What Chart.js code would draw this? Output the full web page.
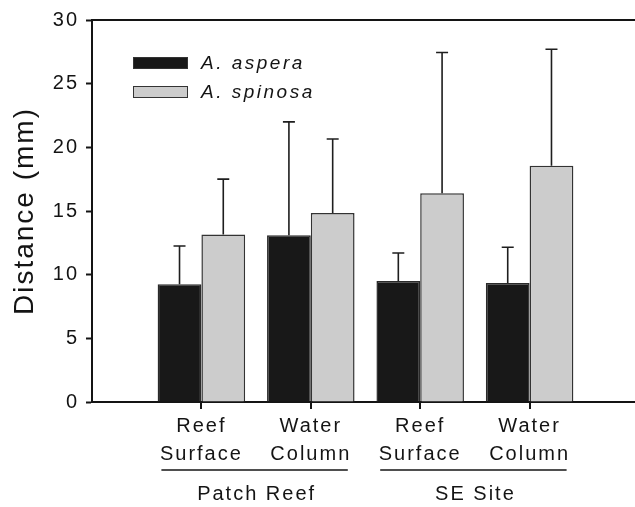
<!DOCTYPE html>
<html>
<head>
<meta charset="utf-8">
<script src="https://cdn.jsdelivr.net/npm/chart.js@4/dist/chart.umd.min.js"></script>
<style>
html, body { margin: 0; padding: 0; overflow: hidden; background: #fff; }
canvas { display: block; }
</style>
</head>
<body>
<canvas id="distChart" width="642" height="507"></canvas>
<script>
// mean distance (mm) with upper SD, per habitat and site
const sites = ['Patch Reef', 'SE Site'];
const habitats = [['Reef', 'Surface'], ['Water', 'Column'], ['Reef', 'Surface'], ['Water', 'Column']];
const aspera = [9.25, 13.1, 9.5, 9.35];
const asperaSD = [3.0, 8.9, 2.2, 2.8];
const spinosa = [13.15, 14.85, 16.4, 18.55];
const spinosaSD = [4.35, 5.8, 11.05, 9.15];
const yTicks = [0, 5, 10, 15, 20, 25, 30];

const FONT = "'Liberation Sans', Arial, sans-serif";
const INK = '#141414';

// empty slot at each end so the categories sit at 1..4 on the axis
const pad = arr => [null, ...arr, null];

const spacing = {
    id: 'spacing',
    beforeLayout(chart) { chart.ctx.letterSpacing = '2px'; },
    beforeDraw(chart) { chart.ctx.letterSpacing = '2px'; }
};

const errorBars = {
    id: 'errorBars',
    afterDatasetsDraw(chart) {
        const ctx = chart.ctx;
        const y = chart.scales.y;
        ctx.save();
        ctx.strokeStyle = '#1e1e1e';
        ctx.lineWidth = 1.6;
        chart.data.datasets.forEach((ds, di) => {
            const meta = chart.getDatasetMeta(di);
            meta.data.forEach((bar, i) => {
                const v = ds.data[i];
                if (v == null) return;
                const top = y.getPixelForValue(v + ds.sd[i]);
                ctx.beginPath();
                ctx.moveTo(bar.x, bar.y);
                ctx.lineTo(bar.x, top);
                ctx.moveTo(bar.x - 6, top);
                ctx.lineTo(bar.x + 6, top);
                ctx.stroke();
            });
        });
        ctx.restore();
    }
};

// top frame line, category ticks, legend, and site labels under the habitats
const decorations = {
    id: 'decorations',
    afterDraw(chart) {
        const ctx = chart.ctx;
        const area = chart.chartArea;
        const x = chart.scales.x;
        ctx.save();
        ctx.strokeStyle = INK;
        ctx.lineWidth = 2;
        ctx.beginPath();
        ctx.moveTo(area.left - 1, area.top);
        ctx.lineTo(area.right, area.top);
        habitats.forEach((h, i) => {
            const px = Math.round(x.getPixelForValue(i + 1));
            ctx.moveTo(px, area.bottom);
            ctx.lineTo(px, area.bottom + 7);
        });
        ctx.stroke();

        // legend
        ctx.letterSpacing = '2.5px';
        ctx.font = 'italic 19px ' + FONT;
        ctx.textBaseline = 'middle';
        ctx.textAlign = 'left';
        chart.data.datasets.forEach((ds, i) => {
            const bx = area.left + 41;
            const by = area.top + 37 + i * 29;
            ctx.fillStyle = ds.backgroundColor;
            ctx.fillRect(bx, by, 55, 12);
            ctx.lineWidth = 1;
            ctx.strokeStyle = '#333';
            ctx.strokeRect(bx + 0.5, by + 0.5, 54, 11);
            ctx.fillStyle = INK;
            ctx.fillText(ds.label, bx + 68, by + 7);
        });

        // site group lines and names
        ctx.letterSpacing = '2px';
        ctx.font = '20px ' + FONT;
        ctx.textAlign = 'center';
        sites.forEach((site, s) => {
            const x0 = x.getPixelForValue(1 + s * 2) - 40;
            const x1 = x.getPixelForValue(2 + s * 2) + 37;
            ctx.strokeStyle = INK;
            ctx.lineWidth = 1.5;
            ctx.beginPath();
            ctx.moveTo(x0, area.bottom + 68);
            ctx.lineTo(x1, area.bottom + 68);
            ctx.stroke();
            ctx.fillStyle = INK;
            ctx.fillText(site, (x0 + x1) / 2 + 2, area.bottom + 92);
        });
        ctx.restore();
    }
};

const ctx = document.getElementById('distChart');
const distChart = new Chart(ctx, {
    type: 'bar',
    data: {
        labels: pad(habitats),
        datasets: [{
            label: 'A. aspera',
            data: pad(aspera),
            sd: pad(asperaSD),
            backgroundColor: '#181818',
            borderColor: '#2a2a2a',
            borderWidth: 1.5
        }, {
            label: 'A. spinosa',
            data: pad(spinosa),
            sd: pad(spinosaSD),
            backgroundColor: '#cccccc',
            borderColor: '#333333',
            borderWidth: 1.5
        }]
    },
    options: {
        responsive: false,
        animation: false,
        devicePixelRatio: 1,
        layout: { padding: { top: 20, right: 3, bottom: 0, left: 0 } },
        categoryPercentage: 0.8,
        barPercentage: 1.0,
        plugins: {
            legend: { display: false },
            tooltip: { enabled: false }
        },
        scales: {
            x: {
                offset: false,
                grid: { display: false },
                border: { display: true, color: INK, width: 2 },
                ticks: {
                    autoSkip: false,
                    maxRotation: 0,
                    padding: 2,
                    color: INK,
                    font: { family: FONT, size: 20, lineHeight: 1.4 }
                },
                afterFit(scale) { scale.height = 105; }
            },
            y: {
                min: 0,
                max: 30,
                afterBuildTicks(scale) { scale.ticks = yTicks.map(v => ({ value: v })); },
                grid: {
                    drawOnChartArea: false,
                    tickLength: 6,
                    tickWidth: 2,
                    tickColor: INK
                },
                border: { display: true, color: INK, width: 2 },
                ticks: {
                    padding: 7,
                    color: INK,
                    font: { family: FONT, size: 20 }
                },
                title: {
                    display: true,
                    text: 'Distance (mm)',
                    color: INK,
                    font: { family: FONT, size: 28 },
                    padding: { top: 8, bottom: 0 }
                },
                afterFit(scale) { scale.width = 92; }
            }
        }
    },
    plugins: [spacing, errorBars, decorations]
});
</script>
</body>
</html>
